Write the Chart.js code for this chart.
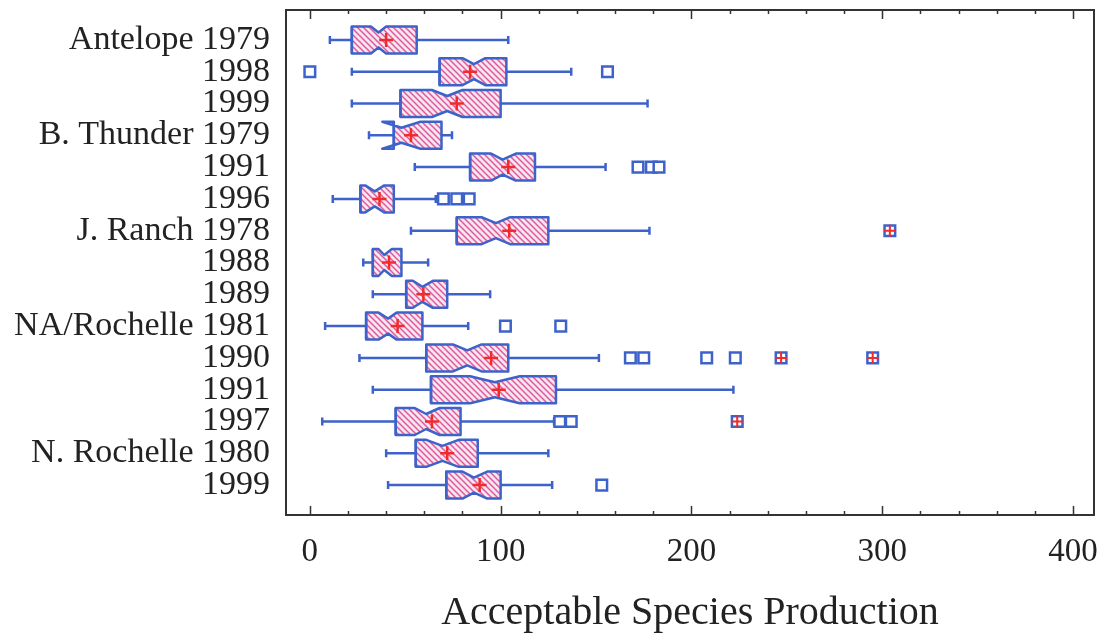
<!DOCTYPE html>
<html>
<head>
<meta charset="utf-8">
<title>Acceptable Species Production</title>
<script src="https://cdn.jsdelivr.net/npm/chart.js@4/dist/chart.umd.min.js"></script>
<style>
  body { margin: 0; background: #fff; }
  #chart { display: block; }
</style>
</head>
<body>
<canvas id="chart" width="1104" height="642"></canvas>
<script>
"use strict";

// one row per site / year, top to bottom
var sites = ['Antelope 1979', '1998', '1999', 'B. Thunder 1979', '1991', '1996', 'J. Ranch 1978', '1988', '1989',
	'NA/Rochelle 1981', '1990', '1991', '1997', 'N. Rochelle 1980', '1999'];

var whiskerLow  = [10.5, 22, 22, 31, 55, 12, 53, 28, 33, 8, 26, 33, 6.5, 40, 41];
var q1          = [22, 68, 47.5, 44, 84, 26.5, 77, 33, 50.5, 29.5, 61, 63.5, 45, 55.5, 71.5];
var median      = [36, 86, 72, 48, 101, 34, 97.5, 39, 59, 41, 82.5, 97, 61, 69.5, 86];
var q3          = [56, 103, 100, 69, 118, 44, 125, 48, 72, 59, 104, 129, 79, 88, 100];
var whiskerHigh = [104, 137, 177, 74.5, 155, 66, 178, 62, 94.5, 83, 151.5, 222, 128, 125, 127];
var notchLow    = [32, 80, 64, 38, 95, 29, 90, 36, 54, 36, 75, 84, 55, 61, 80];
var notchHigh   = [40, 92, 80, 58, 108, 39, 105, 43, 64.5, 45.5, 90, 110, 68, 78, 93];
var means       = [40, 84, 77, 53, 104, 36.5, 104.5, 41.5, 59.5, 46, 95, 99, 64, 72, 89];

var outliers = [[], [0, 156], [], [], [172, 179, 183], [70, 77, 83.5], [], [], [],
	[102.5, 131.5], [168, 175, 208, 223], [], [131, 137], [], [153]];
var farOutliers = [[], [], [], [], [], [], [304], [], [], [], [247, 295], [], [224], [], []];

var xTickLabels = [0, 100, 200, 300, 400];
var xMinorStep = 20;

var BLUE = '#3d62c9';
var RED = '#f22a2a';
var INK = '#222222';
var SERIF = "'Liberation Serif', 'DejaVu Serif', serif";

var ctx = document.getElementById('chart').getContext('2d');

function makeHatch() {
	var c = document.createElement('canvas');
	c.width = 6;
	c.height = 6;
	var g = c.getContext('2d');
	g.fillStyle = '#fbe4ef';
	g.fillRect(0, 0, 6, 6);
	g.strokeStyle = '#d85c9e';
	g.lineWidth = 1.5;
	g.beginPath();
	g.moveTo(-3, 3); g.lineTo(3, 9);
	g.moveTo(0, 0); g.lineTo(6, 6);
	g.moveTo(3, -3); g.lineTo(9, 3);
	g.stroke();
	return ctx.createPattern(c, 'repeat');
}
var hatch = makeHatch();

function toPoints(list) {
	var pts = [];
	list.forEach(function (row, i) {
		row.forEach(function (v) { pts.push({ x: v, y: i + 1 }); });
	});
	return pts;
}

var meanPoints = means.map(function (m, i) { return { x: m, y: i + 1 }; });

// whiskers + notched boxes, drawn under the point datasets
var boxPlugin = {
	id: 'notchedBoxes',
	beforeDatasetsDraw: function (chart) {
		var c = chart.ctx, xs = chart.scales.x, ys = chart.scales.y;
		var h = 13.5, inset = 6, cap = 4;
		c.save();
		c.lineWidth = 2.5;
		c.strokeStyle = BLUE;
		c.lineJoin = 'round';
		for (var i = 0; i < sites.length; i++) {
			var cy = ys.getPixelForValue(i + 1);
			var wl = xs.getPixelForValue(whiskerLow[i]);
			var wh = xs.getPixelForValue(whiskerHigh[i]);
			var a = xs.getPixelForValue(q1[i]);
			var b = xs.getPixelForValue(q3[i]);
			var m = xs.getPixelForValue(median[i]);
			var nl = xs.getPixelForValue(notchLow[i]);
			var nh = xs.getPixelForValue(notchHigh[i]);

			c.beginPath();
			c.moveTo(wl, cy); c.lineTo(a, cy);
			c.moveTo(b, cy); c.lineTo(wh, cy);
			c.moveTo(wl, cy - cap); c.lineTo(wl, cy + cap);
			c.moveTo(wh, cy - cap); c.lineTo(wh, cy + cap);
			c.stroke();

			var path = new Path2D();
			path.moveTo(a, cy - h);
			path.lineTo(nl, cy - h);
			path.lineTo(m, cy - h + inset);
			path.lineTo(nh, cy - h);
			path.lineTo(b, cy - h);
			path.lineTo(b, cy + h);
			path.lineTo(nh, cy + h);
			path.lineTo(m, cy + h - inset);
			path.lineTo(nl, cy + h);
			path.lineTo(a, cy + h);
			path.closePath();

			// hatch only inside q1..q3, the flare of a wide notch stays open
			c.save();
			c.beginPath();
			c.rect(a, cy - h - 2, b - a, 2 * h + 4);
			c.clip();
			c.fillStyle = hatch;
			c.fill(path);
			c.restore();
			c.stroke(path);
			c.beginPath();
			c.moveTo(a, cy - h); c.lineTo(a, cy + h);
			c.stroke();
		}
		c.restore();
	}
};

// closed frame and inward tick marks on top and bottom
var framePlugin = {
	id: 'frame',
	afterDraw: function (chart) {
		var c = chart.ctx, area = chart.chartArea, xs = chart.scales.x;
		c.save();
		c.strokeStyle = '#333';
		c.lineWidth = 2;
		c.strokeRect(area.left, area.top, area.right - area.left, area.bottom - area.top);
		c.lineWidth = 1.5;
		c.beginPath();
		for (var v = xTickLabels[0]; v <= xTickLabels[xTickLabels.length - 1]; v += xMinorStep) {
			var px = Math.round(xs.getPixelForValue(v)) + 0.5;
			var len = (v % 100 === 0) ? 9 : 4;
			c.moveTo(px, area.bottom); c.lineTo(px, area.bottom - len);
			c.moveTo(px, area.top); c.lineTo(px, area.top + len);
		}
		c.stroke();
		c.restore();
	}
};

// Chart.js paints dataset 0 last, so the marks that sit on top come first
var chart = new Chart(ctx, {
	type: 'scatter',
	data: {
		datasets: [{
			label: 'mean',
			data: meanPoints,
			pointStyle: 'cross',
			radius: 7,
			borderWidth: 2.5,
			borderColor: RED
		}, {
			label: 'far outside mark',
			data: toPoints(farOutliers),
			pointStyle: 'cross',
			radius: 6,
			borderWidth: 2,
			borderColor: RED
		}, {
			label: 'far outside',
			data: toPoints(farOutliers),
			pointStyle: 'rect',
			radius: 7.5,
			borderWidth: 2.5,
			borderColor: BLUE,
			backgroundColor: '#ffffff'
		}, {
			label: 'outside',
			data: toPoints(outliers),
			pointStyle: 'rect',
			radius: 7.5,
			borderWidth: 2.5,
			borderColor: BLUE,
			backgroundColor: '#ffffff'
		}]
	},
	options: {
		responsive: false,
		animation: false,
		events: [],
		layout: { padding: { top: 10, right: 8, left: 0, bottom: 0 } },
		plugins: {
			legend: { display: false },
			tooltip: { enabled: false }
		},
		scales: {
			x: {
				type: 'linear',
				min: -12.5,
				max: 411,
				grid: { display: false },
				border: { display: false },
				afterBuildTicks: function (scale) {
					scale.ticks = xTickLabels.map(function (v) { return { value: v }; });
				},
				afterFit: function (scale) {
					scale.height = 127;
					scale.paddingLeft = 0;
					scale.paddingRight = 0;
				},
				ticks: {
					autoSkip: false,
					maxRotation: 0,
					padding: 10,
					color: INK,
					font: { family: SERIF, size: 33 }
				},
				title: {
					display: true,
					text: 'Acceptable Species Production',
					color: INK,
					padding: { top: 4, bottom: 5 },
					font: { family: SERIF, size: 40 }
				}
			},
			y: {
				type: 'linear',
				reverse: true,
				min: 0.06,
				max: 15.94,
				grid: { display: false },
				border: { display: false },
				afterBuildTicks: function (scale) {
					scale.ticks = sites.map(function (s, i) { return { value: i + 1 }; });
				},
				afterFit: function (scale) {
					scale.width = 286;
					scale.paddingTop = 0;
					scale.paddingBottom = 0;
				},
				ticks: {
					autoSkip: false,
					padding: 8,
					color: INK,
					font: { family: SERIF, size: 34 },
					callback: function (value) { return sites[value - 1]; }
				}
			}
		}
	},
	plugins: [boxPlugin, framePlugin]
});
</script>
</body>
</html>
